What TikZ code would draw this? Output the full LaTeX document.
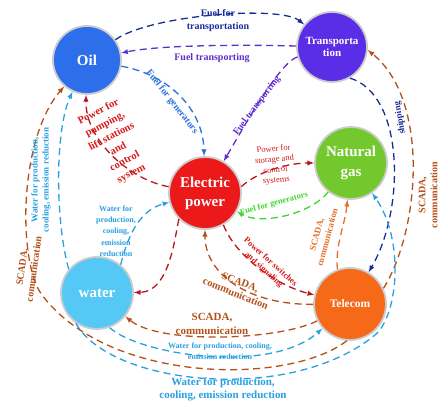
\documentclass[tikz,border=0pt]{standalone}
\usepackage{fontspec}
\setmainfont{Liberation Serif}
\usetikzlibrary{positioning}
\definecolor{oilblue}{RGB}{45,110,235}
\definecolor{transpurple}{RGB}{90,45,230}
\definecolor{elecred}{RGB}{235,25,25}
\definecolor{gasgreen}{RGB}{115,200,45}
\definecolor{waterblue}{RGB}{85,200,245}
\definecolor{telorange}{RGB}{245,105,25}
\definecolor{navyline}{RGB}{25,45,150}
\definecolor{purpleline}{RGB}{95,45,205}
\definecolor{blueline}{RGB}{40,110,220}
\definecolor{darkredline}{RGB}{185,20,30}
\definecolor{redtext}{RGB}{215,25,25}
\definecolor{greenline}{RGB}{60,215,45}
\definecolor{brownline}{RGB}{180,80,25}
\definecolor{orangeline}{RGB}{230,110,40}
\definecolor{lightblueline}{RGB}{40,160,225}
\tikzset{
    Node/.style = {circle, draw=gray!40, line width=1.8pt, align=center, text=white, font=\bfseries, inner sep=0pt, minimum size=72pt}
}
\tikzset{
    Edge/.style = {line width=1.3pt, dash pattern=on 7pt off 4.5pt, -latex}
}

\begin{document}
\begin{tikzpicture}[x=1pt, y=-1pt]
\tikzset{
    mylabel/.style = {align=center, inner sep=0pt, font=\bfseries\fontsize{8}{9.5}\selectfont},
}
\useasboundingbox (0,0) rectangle (440,403);

% sectors
\node[Node, fill=oilblue, minimum size=68pt, font=\bfseries\fontsize{15}{18}\selectfont] at (87,60) (oil) {Oil};
\node[Node, fill=transpurple, minimum size=70pt, font=\bfseries\fontsize{11}{12}\selectfont] at (332,47) (trans) {Transporta\\tion};
\node[Node, fill=elecred, font=\bfseries\fontsize{15}{19}\selectfont] at (205,193) (elec) {Electric\\power};
\node[Node, fill=gasgreen, font=\bfseries\fontsize{15}{20}\selectfont] at (351,163) (gas) {Natural\\gas};
\node[Node, fill=waterblue, font=\bfseries\fontsize{15}{18}\selectfont] at (97,293) (water) {water};
\node[Node, fill=telorange, font=\bfseries\fontsize{11.5}{13}\selectfont] at (350,304) (tele) {Telecom};

\coordinate (lbend) at (42,295);
\coordinate (wbend) at (375,335);

% fuel
\draw[Edge, navyline] (oil) .. controls (150,15) and (280,5) .. (trans);
\node[mylabel, navyline, font=\bfseries\fontsize{10}{13}\selectfont] at (218,21) (fuelTrans) {Fuel for\\transportation};
\draw[Edge, purpleline] (trans) .. controls (260,45) and (165,44) .. (oil);
\node[mylabel, purpleline, font=\bfseries\fontsize{10}{12}\selectfont] at (212,58) (fuelTr) {Fuel transporting};
\draw[Edge, blueline] (oil) .. controls (170,75) and (203,110) .. (elec);
\node[mylabel, blueline, rotate=-52, font=\bfseries\fontsize{9.5}{11}\selectfont] at (172,102) (fuelGenOil) {Fuel for generators};
\draw[Edge, purpleline] (trans) .. controls (280,62) and (245,125) .. (elec);
\node[mylabel, purpleline, rotate=53, font=\bfseries\fontsize{9.5}{11}\selectfont] at (257,106) (fuelTrElec) {Fuel transporting};
\draw[Edge, navyline] (trans.-60) .. controls (405,95) and (405,210) .. (tele);
\node[mylabel, navyline, rotate=100, font=\bfseries\fontsize{9}{11}\selectfont] at (400,118) (ship) {shipping};
\draw[Edge, greenline] (gas) .. controls (310,215) and (260,225) .. (elec);
\node[mylabel, greenline, rotate=15, font=\bfseries\fontsize{8.5}{10}\selectfont] at (274,204) (fuelGenGas) {Fuel for generators};

% SCADA
\draw[Edge, brownline] (tele.25) .. controls (420,230) and (430,100) .. (trans.-5);
\node[mylabel, brownline, rotate=90, font=\bfseries\fontsize{10}{12}\selectfont] at (428,195) (scadaR) {SCADA,\\communication};
\draw[Edge, brownline] (tele.-95) .. controls (290,385) and (110,385) .. (lbend) .. controls (18,263) and (18,140) .. (oil);
\node[mylabel, brownline, rotate=82, font=\bfseries\fontsize{10}{12}\selectfont] at (28,268) (scadaL) {SCADA,\\communication};
\draw[Edge, brownline] (tele) .. controls (280,340) and (160,345) .. (water);
\node[mylabel, brownline, font=\bfseries\fontsize{11}{14}\selectfont] at (212,324) (scadaW) {SCADA,\\communication};
\draw[Edge, brownline] (tele) .. controls (250,305) and (205,275) .. (elec);
\node[mylabel, brownline, rotate=-22, font=\bfseries\fontsize{10.5}{12.5}\selectfont] at (238,288) (scadaE) {SCADA,\\communication};
\draw[Edge, orangeline] (tele.110) .. controls (335,245) and (345,225) .. (gas);
\node[mylabel, orangeline, rotate=75, font=\bfseries\fontsize{9}{11}\selectfont] at (322,236) (scadaG) {SCADA,\\communication};

% power
\draw[Edge, darkredline] (elec) .. controls (130,180) and (85,140) .. (oil);
\node[mylabel, redtext, rotate=28, font=\bfseries\fontsize{10.5}{14}\selectfont] at (115,143) (powPump) {Power for\\pumping,\\lift stations\\and\\control\\system};
\draw[Edge, darkredline] (elec.10) .. controls (260,170) and (290,163) .. (gas);
\node[mylabel, redtext, rotate=5, font=\fontsize{8.5}{10.5}\selectfont] at (275,165) (powStore) {Power for\\storage and\\control\\systems};
\draw[Edge, darkredline] (elec.-60) .. controls (235,255) and (275,285) .. (tele);
\node[mylabel, redtext, rotate=-42, font=\bfseries\fontsize{8.5}{10}\selectfont] at (267,266) (powSwitch) {Power for switches\\and signaling};
\draw[Edge, darkredline] (elec.225) .. controls (175,235) and (170,292) .. (water);

% water
\draw[Edge, lightblueline] (water.140) .. controls (55,220) and (55,130) .. (oil);
\node[mylabel, lightblueline, rotate=90, font=\bfseries\fontsize{9}{11}\selectfont] at (41,180) (wOil) {Water for production,\\cooling, emission reduction};
\draw[Edge, lightblueline] (water.50) .. controls (128,235) and (140,210) .. (elec);
\node[mylabel, lightblueline, font=\bfseries\fontsize{8}{11.3}\selectfont] at (116,231) (wElec) {Water for\\production,\\cooling,\\emission\\reduction};
\draw[Edge, lightblueline] (water.-70) .. controls (140,355) and (270,375) .. (tele);
\node[mylabel, lightblueline, font=\bfseries\fontsize{8}{11}\selectfont] at (220,351) (wTele) {Water for production, cooling,\\emission reduction};
\draw[Edge, lightblueline] (water.-125) .. controls (110,385) and (290,405) .. (wbend) .. controls (398,316) and (405,240) .. (gas);
\node[mylabel, lightblueline, font=\bfseries\fontsize{11}{13}\selectfont] at (223,389) (wGas) {Water for production,\\cooling, emission reduction};
\end{tikzpicture}
\end{document}
